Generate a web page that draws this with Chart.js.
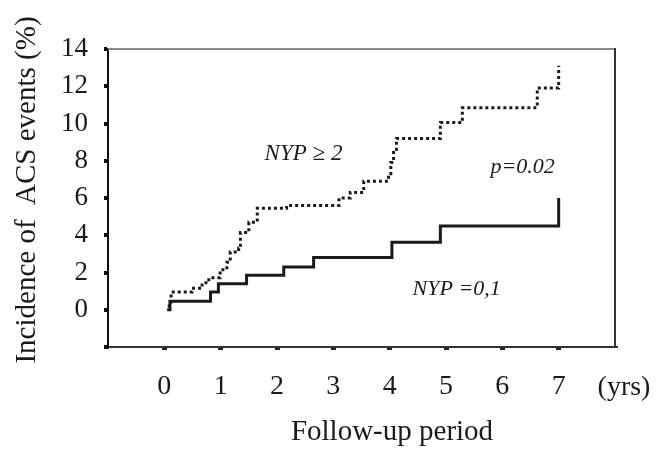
<!DOCTYPE html>
<html>
<head>
<meta charset="utf-8">
<script src="https://cdn.jsdelivr.net/npm/chart.js@4/dist/chart.umd.min.js"></script>
<style>
  html, body { margin: 0; padding: 0; background: #fff; }
  #wrap { width: 669px; height: 449px; }
</style>
</head>
<body>
<div id="wrap"><canvas id="km-chart"></canvas></div>
<script>
// follow-up years where each curve steps, and the incidence (%) after the step
const lowX = [0.05, 0.1, 0.82, 0.96, 1.46, 2.12, 2.65, 4.04, 4.9, 7.0];
const lowY = [0, 0.45, 0.95, 1.4, 1.85, 2.3, 2.8, 3.62, 4.5, 6.0];

const highX = [0.06, 0.12, 0.49, 0.67, 0.79, 0.99, 1.11, 1.17, 1.32, 1.35, 1.5, 1.65, 2.17, 3.1, 3.3, 3.54, 3.98, 4.02, 4.07, 4.12, 4.9, 5.29, 6.62, 7.0];
const highY = [0.2, 0.95, 1.15, 1.45, 1.72, 2.15, 2.55, 3.1, 3.3, 4.15, 4.7, 5.45, 5.6, 6.0, 6.3, 6.9, 7.3, 7.9, 8.6, 9.2, 10.05, 10.85, 11.9, 13.1];

const xTicks = [0, 1, 2, 3, 4, 5, 6, 7];
const yTicks = [0, 2, 4, 6, 8, 10, 12, 14];

const labelLow = 'NYP =0,1';
const labelHigh = 'NYP \u2265 2';
const pText = 'p=0.02';
const xTitle = 'Follow-up period';
const yTitle = 'Incidence of  ACS events (%)';
const unitText = '(yrs)';

const toPoints = (xs, ys) => xs.map((x, i) => ({ x: x, y: ys[i] }));

const serif = "'Liberation Serif', 'Times New Roman', serif";

// box top/right, axis titles, annotations and "(yrs)"
const extras = {
    id: 'extras',
    afterDraw(chart) {
        const { ctx, chartArea, scales } = chart;
        const xs = scales.x, ys = scales.y;
        ctx.save();
        ctx.lineWidth = 2;
        ctx.strokeStyle = '#8a8a8a';
        ctx.beginPath();
        ctx.moveTo(chartArea.left, chartArea.top);
        ctx.lineTo(chartArea.right, chartArea.top);
        ctx.stroke();
        ctx.strokeStyle = '#333';
        ctx.beginPath();
        ctx.moveTo(chartArea.right, chartArea.top - 1);
        ctx.lineTo(chartArea.right, chartArea.bottom);
        ctx.stroke();

        ctx.fillStyle = '#1a1a1a';
        ctx.textAlign = 'center';
        ctx.textBaseline = 'middle';
        ctx.font = 'italic 23px ' + serif;
        ctx.fillText(labelHigh, xs.getPixelForValue(2.47), ys.getPixelForValue(8.35));
        ctx.font = 'italic 22px ' + serif;
        ctx.fillText(pText, xs.getPixelForValue(6.36), ys.getPixelForValue(7.65));
        ctx.fillText(labelLow, xs.getPixelForValue(5.19), ys.getPixelForValue(1.12));

        ctx.font = '28px ' + serif;
        ctx.fillText(unitText, xs.getPixelForValue(8) + 9, 388);

        ctx.font = '29px ' + serif;
        ctx.fillText(xTitle, 392, 432);

        ctx.translate(27, 190);
        ctx.rotate(-Math.PI / 2);
        ctx.fillText(yTitle, 0, 0);
        ctx.restore();
    }
};

new Chart(document.querySelector('#km-chart').getContext('2d'), {
    type: 'line',
    data: {
        datasets: [{
            label: labelHigh,
            data: toPoints(highX, highY),
            stepped: 'before',
            borderColor: '#1a1a1a',
            borderWidth: 3,
            borderDash: [3, 3],
            borderCapStyle: 'butt',
            pointRadius: 0,
            fill: false
        }, {
            label: labelLow,
            data: toPoints(lowX, lowY),
            stepped: 'before',
            borderColor: '#1a1a1a',
            borderWidth: 3,
            pointRadius: 0,
            fill: false
        }]
    },
    options: {
        responsive: true,
        maintainAspectRatio: false,
        animation: false,
        layout: { padding: { left: 0, right: 54, top: 49, bottom: 0 } },
        plugins: {
            legend: { display: false },
            tooltip: { enabled: false }
        },
        scales: {
            x: {
                type: 'linear',
                min: -1,
                max: 8,
                afterFit: (scale) => { scale.height = 102; },
                afterBuildTicks: (scale) => {
                    scale.ticks = [-1].concat(xTicks, [8]).map(v => ({ value: v }));
                },
                ticks: {
                    font: { family: serif, size: 28 },
                    color: '#1a1a1a',
                    padding: 20,
                    maxRotation: 0,
                    autoSkip: false,
                    callback: (v) => xTicks.includes(v) ? String(v) : ''
                },
                grid: {
                    drawOnChartArea: false,
                    tickLength: 3,
                    lineWidth: 5,
                    color: (c) => (c.tick && xTicks.includes(c.tick.value)) ? '#222' : 'rgba(0,0,0,0)'
                },
                border: { color: '#333', width: 2 }
            },
            y: {
                min: -2,
                max: 14,
                afterFit: (scale) => { scale.width = 108; },
                afterBuildTicks: (scale) => {
                    scale.ticks = [-2].concat(yTicks).map(v => ({ value: v }));
                },
                ticks: {
                    font: { family: serif, size: 27 },
                    color: '#1a1a1a',
                    padding: 16,
                    callback: (v) => yTicks.includes(v) ? String(v) : ''
                },
                grid: {
                    drawOnChartArea: false,
                    tickLength: 4,
                    lineWidth: 4,
                    color: '#111'
                },
                border: { color: '#111', width: 2 }
            }
        }
    },
    plugins: [extras]
});
</script>
</body>
</html>
